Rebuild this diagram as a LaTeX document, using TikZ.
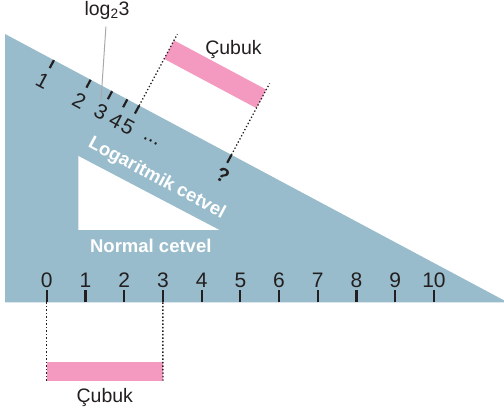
\documentclass[tikz,border=0pt]{standalone}
\usepackage{fontspec}
\setmainfont{Liberation Sans}
\usetikzlibrary{positioning,calc}
\definecolor{rulerBlue}{HTML}{98BCCB}
\definecolor{rodPink}{HTML}{F49AC1}
\definecolor{ink}{HTML}{231F20}
\definecolor{soft}{HTML}{A7A9AC}
\newcommand{\slope}{-28.1}

\begin{document}
\begin{tikzpicture}[
  x=1pt, y=1pt,
  font=\fontsize{19.5}{22}\selectfont,
  tick/.style={draw=ink, line width=2.2pt},
  guide/.style={draw=ink, line width=1.3pt, dash pattern=on 1.3pt off 2.2pt},
  rod/.style={fill=rodPink, inner sep=0pt, outer sep=0pt},
  num/.style={text=ink, inner sep=0pt, font=\fontsize{21}{24}\selectfont},
  lbl/.style={text=ink, inner sep=0pt},
  inlbl/.style={text=white, inner sep=0pt, font=\fontsize{18.5}{20}\selectfont\bfseries},
  leader/.style={draw=soft, line width=1pt}
]
\useasboundingbox (0,0) rectangle (504,414);

% ruler body with its cut-out
\coordinate (top) at (5,380);
\coordinate (corner) at (5,111.5);
\coordinate (tip) at (508,111.5);
\fill[rulerBlue] (top) -- (corner) -- (tip) -- cycle;
\fill[white] (78.3,258) -- (78.3,184) -- (219.3,184) -- cycle;

% normal scale
\foreach \i in {0,...,10} {
  \coordinate (z\i) at ({46.7+38.73*\i},111.5);
  \draw[tick] (z\i) -- ++(0,12);
  \node[num] (n\i) at ({46.7+38.73*\i},134) {\i};
}
\node[inlbl] (normal) at (150.8,168) {Normal cetvel};

\node[rod, minimum width=116.2pt, minimum height=19pt, anchor=south west] (rodA) at (46.7,33.3) {};
\node[lbl, below=7pt of rodA] (lblA) {Çubuk};
\draw[guide] (z0) -- (rodA.south west);
\draw[guide] (z3) -- (rodA.south east);

% logarithmic scale along the slope
\begin{scope}[shift={(top)}, rotate=\slope]
  \foreach \n/\p in {1/0, 2/1, 3/1.585, 4/2, 5/2.3219} {
    \draw[tick] ({55.5+41.6*\p},0) -- ++(0,-9);
    \node[num, rotate=\slope] (l\n) at ({55.5+41.6*\p},-24) {\n};
  }
  \node[num, rotate=\slope] (dots) at (179,-26) {...};
  \draw[tick] (256.7,0) -- ++(0,-9);
  \node[num, rotate=\slope, font=\fontsize{20}{22}\selectfont\bfseries] (q) at (258.7,-22) {?};
  \node[inlbl, rotate=\slope] (logr) at (202,-56) {Logaritmik cetvel};

  \coordinate (lead) at (115.8,-13);
  \coordinate (a) at (152.1,0);
  \coordinate (a2) at (152.1,81);
  \coordinate (b) at (256.7,0);
  \coordinate (b2) at (256.7,81);
  \node[rod, rotate=\slope, minimum width=104.6pt, minimum height=21pt, anchor=south west] (rodB) at (152.1,53) {};
  \draw[guide] (a) -- (a2);
  \draw[guide] (b) -- (b2);
\end{scope}

\node[lbl, anchor=base] (lblB) at (233.5,359) {Çubuk};
\node[lbl, anchor=base] (logt) at (107,398.5) {log\textsubscript{2}3};
\draw[leader, shorten <=7pt] (logt) -- (lead);

\end{tikzpicture}
\end{document}
